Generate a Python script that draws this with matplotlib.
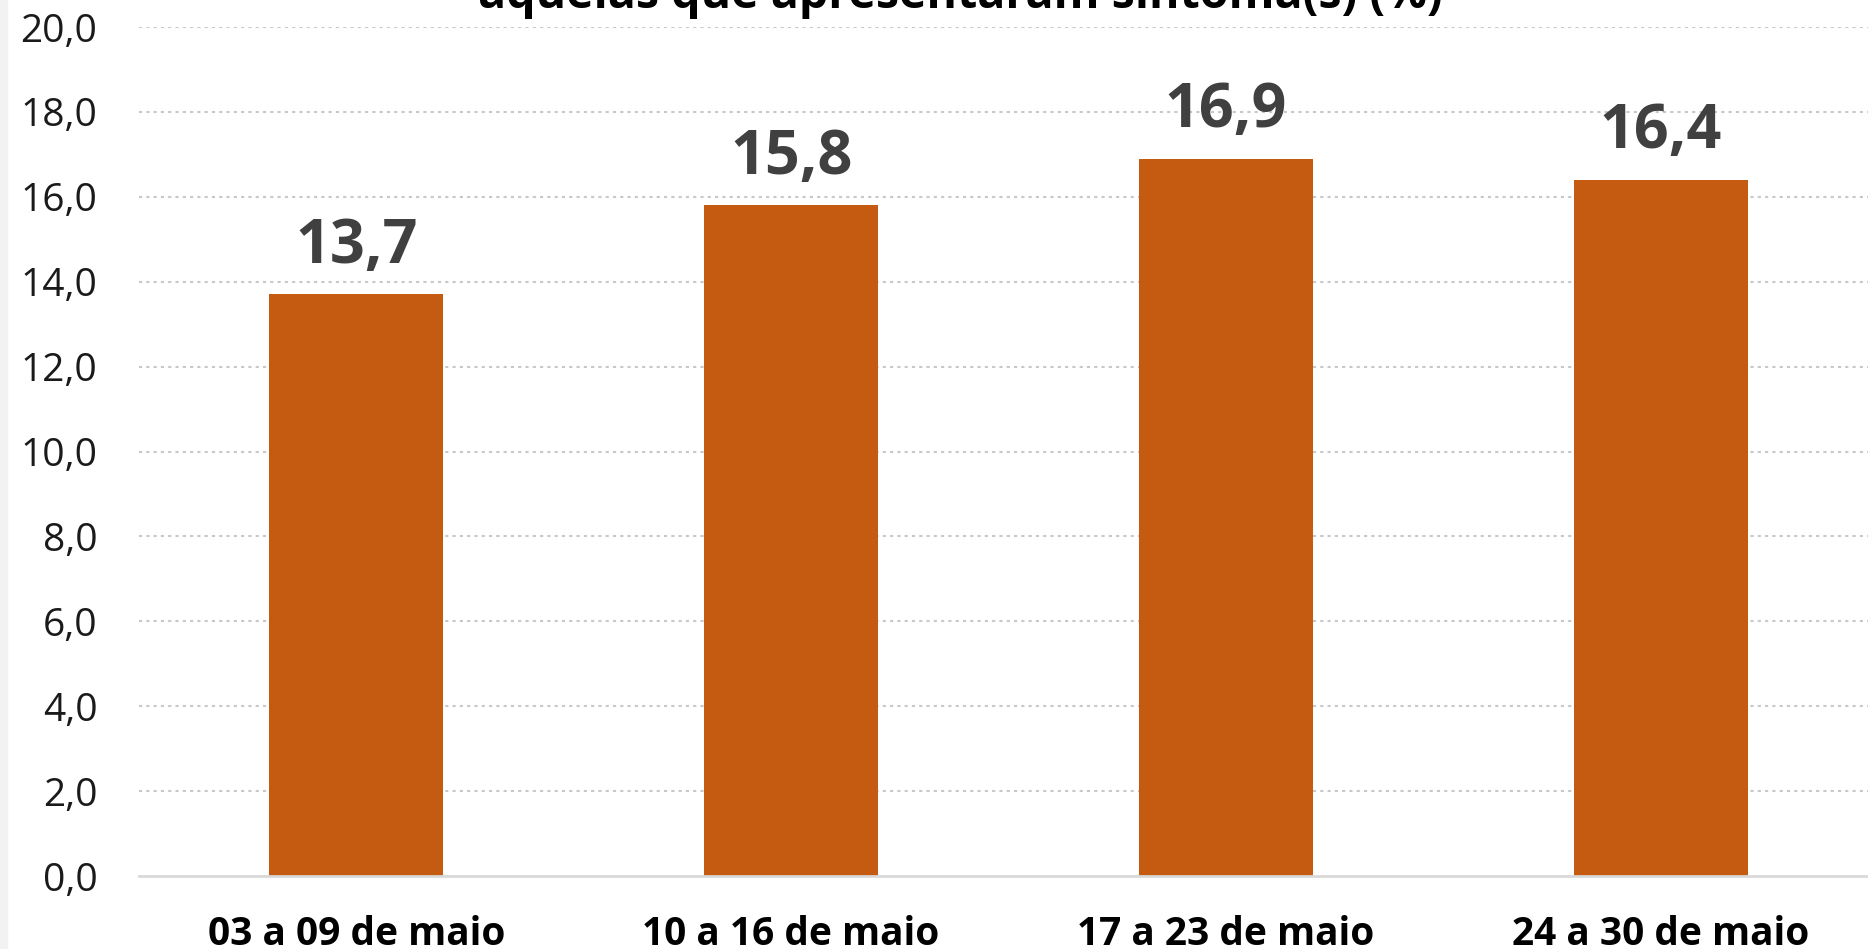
import matplotlib
matplotlib.use("Agg")
import matplotlib.pyplot as plt
from matplotlib.patches import Rectangle

categories = ["03 a 09 de maio", "10 a 16 de maio", "17 a 23 de maio", "24 a 30 de maio"]
values = [13.7, 15.8, 16.9, 16.4]
yticks = [0, 2, 4, 6, 8, 10, 12, 14, 16, 18, 20]
title_line = "aquelas que apresentaram sintoma(s) (%)"

W, H = 1868, 949
fig = plt.figure(figsize=(W / 100, H / 100), dpi=100)
fig.patch.set_facecolor("white")

left_px, right_px, top_px, bottom_px = 139, 1878, 27, 876
ax = fig.add_axes([left_px / W, 1 - bottom_px / H, (right_px - left_px) / W, (bottom_px - top_px) / H])
ax.set_facecolor("none")

x = list(range(len(categories)))
bars = ax.bar(x, values, width=0.4, color="#C55A11", zorder=3)
ax.set_xlim(-0.5, len(categories) - 0.5)
ax.set_ylim(0, 20)
ax.set_yticks(yticks)
ax.set_yticklabels([f"{v:.1f}".replace(".", ",") for v in yticks],
                   fontfamily="Open Sans", fontsize=28, color="#1a1a1a")
ax.set_xticks(x)
ax.set_xticklabels(categories, fontfamily="Open Sans", fontweight="bold", fontsize=28, color="black")
ax.tick_params(axis="y", length=0, pad=30)
ax.tick_params(axis="x", length=0, pad=28)

for s in ["top", "right", "left"]:
    ax.spines[s].set_visible(False)
ax.spines["bottom"].set_color("#d9d9d9")
ax.spines["bottom"].set_linewidth(2)
ax.spines["bottom"].set_zorder(4)

for v in yticks[1:]:
    ax.axhline(v, color="#c8c8c8", linestyle=(0, (1.5, 2)), linewidth=1.5, zorder=1)

for b, v in zip(bars, values):
    ax.annotate(f"{v:.1f}".replace(".", ","), (b.get_x() + b.get_width() / 2, v),
                xytext=(0, 12), textcoords="offset points", ha="center", va="bottom",
                fontfamily="Open Sans", fontweight="bold", fontsize=44, color="#404040")

fig.text(806 * W / 1568 / W, 1 - 8 / H, title_line, ha="center", va="baseline",
         fontfamily="Open Sans", fontweight="bold", fontsize=33.5, color="black")

fig.add_artist(Rectangle((0, 0), 7 / W, 1, transform=fig.transFigure, color="#f2f2f2", zorder=0))

fig.savefig("out.png", dpi=100)
